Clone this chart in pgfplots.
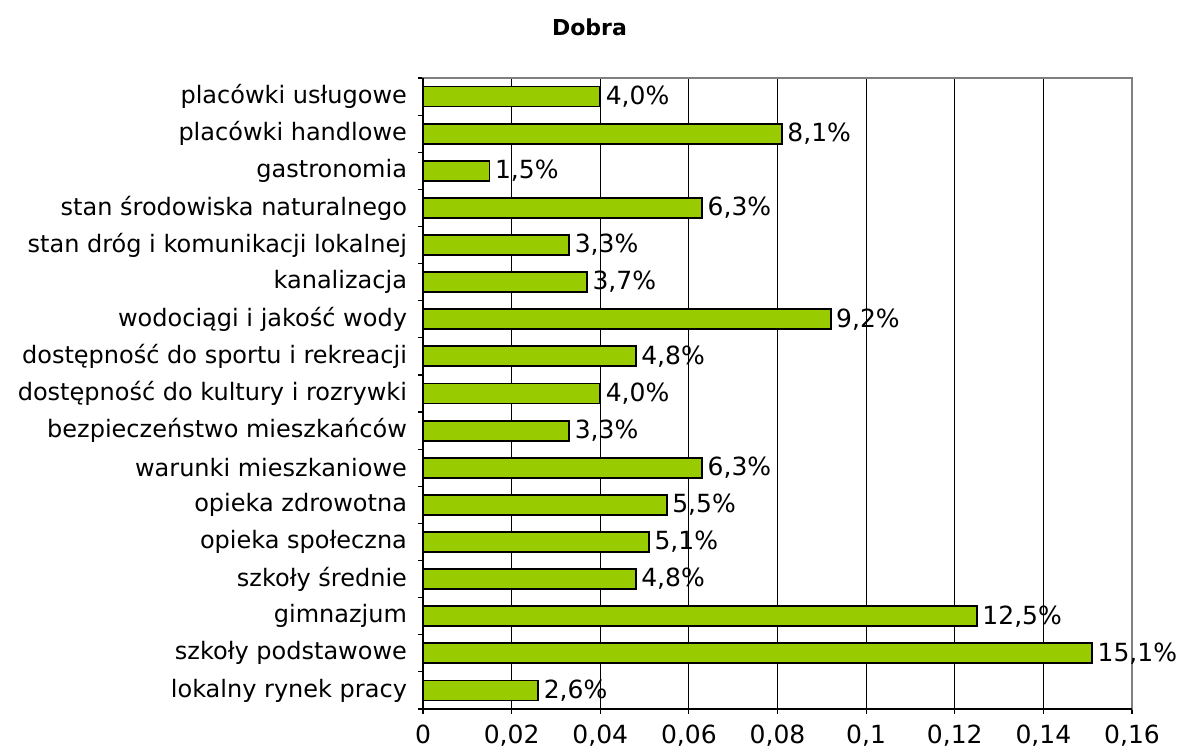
\documentclass[border=0pt]{standalone}
\usepackage{pgfplots}
\pgfplotsset{compat=1.18}
\usepackage{fontspec}
\setmainfont{DejaVu Sans}
\definecolor{bargreen}{HTML}{99CC00}
\definecolor{framegray}{HTML}{808080}

\begin{document}
\begin{tikzpicture}
\path[use as bounding box] (-211.5pt,-23pt) rectangle (378pt,354.5pt);
\begin{axis}[
    scale only axis,
    width=354.5pt, height=315.5pt,
    xbar,
    bar width=10pt,
    xmin=0, xmax=0.16,
    ymin=-0.5, ymax=16.5,
    xtick={0,0.02,0.04,0.06,0.08,0.1,0.12,0.14,0.16},
    xticklabels={0,{0,02},{0,04},{0,06},{0,08},{0,1},{0,12},{0,14},{0,16}},
    scaled x ticks=false,
    ytick={0,...,16},
    yticklabels={lokalny rynek pracy,szkoły podstawowe,gimnazjum,szkoły średnie,opieka społeczna,opieka zdrowotna,warunki mieszkaniowe,bezpieczeństwo mieszkańców,dostępność do kultury i rozrywki,dostępność do sportu i rekreacji,wodociągi i jakość wody,kanalizacja,stan dróg i komunikacji lokalnej,stan środowiska naturalnego,gastronomia,placówki handlowe,placówki usługowe},
    minor ytick={-0.5,0.5,...,16.5},
    xtick pos=bottom, ytick pos=left,
    major tick length=2.5pt,
    minor tick length=2.5pt,
    every major y tick/.append style={opacity=0},
    tick align=outside,
    tick style={black, line width=0.6pt},
    xmajorgrids,
    major grid style={black, line width=0.5pt},
    axis line style={framegray, line width=0.8pt},
    xticklabel style={font=\fontsize{12.5}{14}\selectfont, yshift=-2pt},
    yticklabel style={font=\fontsize{12}{14}\selectfont, xshift=-2pt},
    point meta=explicit symbolic,
    nodes near coords,
    every node near coord/.append style={font=\fontsize{12.5}{14}\selectfont, anchor=west, xshift=-1pt},
    after end axis/.code={
        \draw[black, line width=0.8pt] (rel axis cs:0,1) -- (rel axis cs:0,0) -- (rel axis cs:1,0);
    },
]
\addplot[fill=bargreen, draw=black, line width=0.9pt] coordinates {
    (0.026,0) [2,6\%] (0.151,1) [15,1\%] (0.125,2) [12,5\%] (0.048,3) [4,8\%]
    (0.051,4) [5,1\%] (0.055,5) [5,5\%] (0.063,6) [6,3\%] (0.033,7) [3,3\%]
    (0.040,8) [4,0\%] (0.048,9) [4,8\%] (0.092,10) [9,2\%] (0.037,11) [3,7\%]
    (0.033,12) [3,3\%] (0.063,13) [6,3\%] (0.015,14) [1,5\%] (0.081,15) [8,1\%]
    (0.040,16) [4,0\%]
};
\end{axis}
\node[font=\bfseries\fontsize{11}{13}\selectfont] at (83.25pt,341pt) {Dobra};
\end{tikzpicture}
\end{document}
